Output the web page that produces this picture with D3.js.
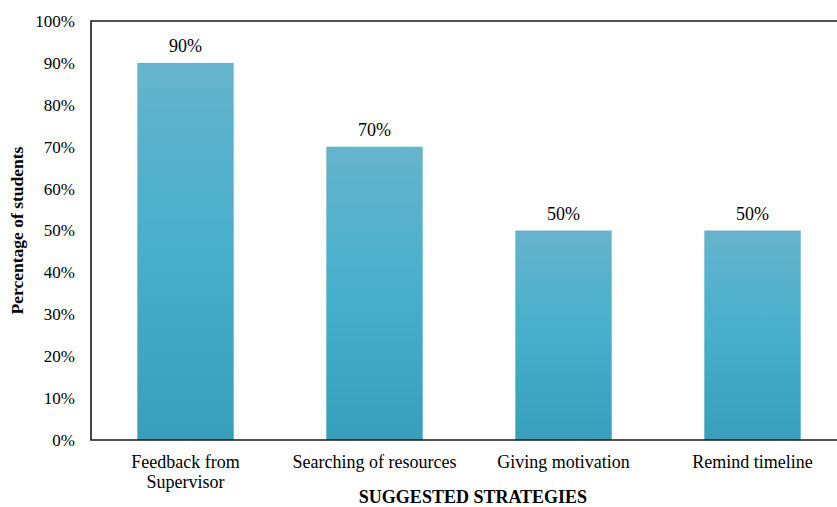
<!DOCTYPE html>
<html>
<head>
<meta charset="utf-8">
<script src="https://cdn.jsdelivr.net/npm/d3@7/dist/d3.min.js"></script>
<style>
  html, body { margin: 0; padding: 0; background: #fff; }
  svg, svg text { font-family: "Liberation Serif", "Times New Roman", serif !important; }
</style>
</head>
<body>
<svg id="chart" width="837" height="507"></svg>
<script>
// Share of students recommending each strategy
const categories = [
  ["Feedback from", "Supervisor"],
  ["Searching of resources"],
  ["Giving motivation"],
  ["Remind timeline"]
];
const values = [90, 70, 50, 50];
const yTicks = [0, 10, 20, 30, 40, 50, 60, 70, 80, 90, 100];

const svg = d3.select("#chart");
const plotLeft = 91, plotTop = 21, plotBottom = 440, plotRight = 847;
const serif = '"Liberation Serif", "Times New Roman", serif';

const x = d3.scaleBand()
  .domain(categories.map((c, i) => i))
  .range([plotLeft, plotRight])
  .paddingInner(0.49)
  .paddingOuter(0.245);

const y = d3.scaleLinear().domain([0, 100]).range([plotBottom, plotTop]);

// Vertical gradient fill for the bars
const defs = svg.append("defs");
const grad = defs.append("linearGradient")
  .attr("id", "barFill")
  .attr("x1", 0).attr("y1", 0).attr("x2", 0).attr("y2", 1);
grad.append("stop").attr("offset", "0%").attr("stop-color", "#66b4cc");
grad.append("stop").attr("offset", "50%").attr("stop-color", "#47afcc");
grad.append("stop").attr("offset", "100%").attr("stop-color", "#379fbc");

// Bars
svg.append("g").selectAll("rect")
  .data(values)
  .join("rect")
  .attr("x", (d, i) => x(i))
  .attr("y", d => y(d))
  .attr("width", x.bandwidth())
  .attr("height", d => y(0) - y(d))
  .attr("fill", "url(#barFill)");

// Value labels
svg.append("g").selectAll("text")
  .data(values)
  .join("text")
  .attr("x", (d, i) => x(i) + x.bandwidth() / 2)
  .attr("y", d => y(d) - 11)
  .attr("text-anchor", "middle")
  .style("font-family", serif)
  .style("font-size", "18px")
  .attr("fill", "#000")
  .text(d => d + "%");

// Y axis (labels only, no tick marks)
const yAxis = d3.axisLeft(y)
  .tickValues(yTicks)
  .tickFormat(d => d + "%")
  .tickSize(0)
  .tickPadding(16);
const gy = svg.append("g")
  .attr("transform", `translate(${plotLeft},0)`)
  .call(yAxis)
  .attr("font-family", null)
  .attr("font-size", null);
gy.select(".domain").remove();
gy.selectAll("text")
  .style("font-family", serif)
  .style("font-size", "17px")
  .attr("fill", "#000");

// X axis category labels
const xAxis = d3.axisBottom(x).tickSize(0).tickFormat("");
const gx = svg.append("g")
  .attr("transform", `translate(0,${plotBottom})`)
  .call(xAxis)
  .attr("font-family", null)
  .attr("font-size", null);
gx.select(".domain").remove();
gx.selectAll(".tick").each(function(d) {
  const t = d3.select(this).append("text")
    .attr("text-anchor", "middle")
    .style("font-family", serif)
    .style("font-size", "18px")
    .attr("fill", "#000");
  categories[d].forEach((line, k) => {
    t.append("tspan").attr("x", 0).attr("y", 28 + k * 20).text(line);
  });
});

// Frame: left, top and baseline
const frame = svg.append("g")
  .attr("stroke", "#1a1a1a")
  .attr("stroke-width", 1.6)
  .attr("fill", "none");
frame.append("path").attr("d", `M${837},${plotTop}H${plotLeft}V${plotBottom}H${837}`);

// Axis titles
svg.append("text")
  .attr("transform", `translate(23,${(plotTop + plotBottom) / 2}) rotate(-90)`)
  .attr("text-anchor", "middle")
  .style("font-family", serif)
  .style("font-size", "17.5px")
  .attr("font-weight", "bold")
  .text("Percentage of students");

svg.append("text")
  .attr("x", 473)
  .attr("y", 503)
  .attr("text-anchor", "middle")
  .style("font-family", serif)
  .style("font-size", "18px")
  .attr("font-weight", "bold")
  .text("SUGGESTED STRATEGIES");
</script>
</body>
</html>
